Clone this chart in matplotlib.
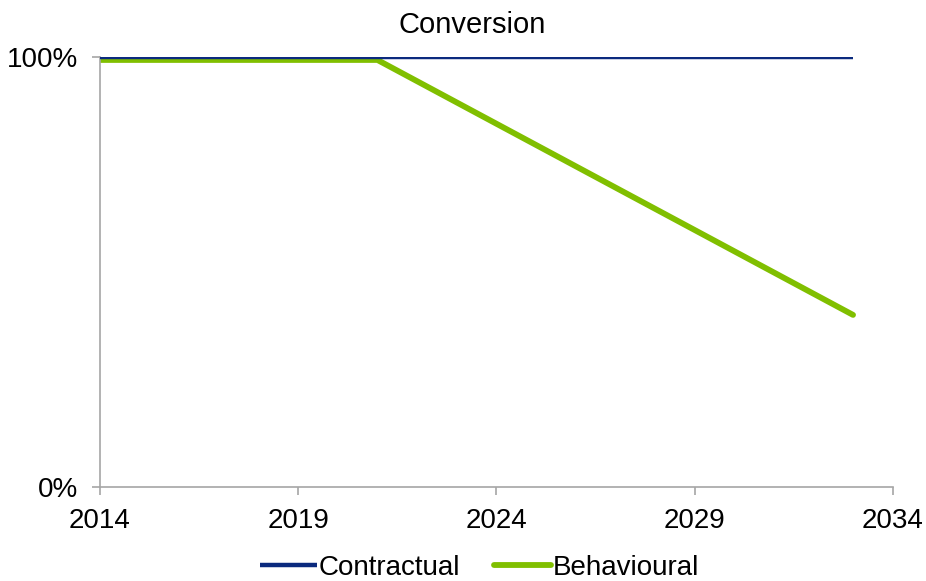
import matplotlib.pyplot as plt
from matplotlib.ticker import FuncFormatter

plt.rcParams["font.family"] = ["Liberation Sans", "DejaVu Sans"]

# contractual conversion stays flat; behavioural runs off after 2021
contract_years = [2014, 2033]
contract_vals = [1.00, 1.00]
behav_years = [2014, 2021, 2033]
behav_vals = [0.993, 0.993, 0.40]

x_ticks = [2014, 2019, 2024, 2029, 2034]
y_ticks = [0.0, 1.0]

C_AXIS = "#a6a6a6"

fig = plt.figure(figsize=(9.26, 5.81), dpi=100)
ax = fig.add_axes([0.108, 0.162, 0.856, 0.740])

ax.plot(contract_years, contract_vals, color="#0b2a7e", lw=3.2,
        solid_capstyle="butt", label="Contractual", zorder=3)
ax.plot(behav_years, behav_vals, color="#80bf00", lw=4.2,
        solid_capstyle="round", label="Behavioural", zorder=2)

ax.set_xlim(2014, 2034)
ax.set_ylim(0, 1)
ax.set_xticks(x_ticks)
ax.set_yticks(y_ticks)
ax.yaxis.set_major_formatter(FuncFormatter(lambda v, _: f"{v:.0%}"))

for side in ("top", "right"):
    ax.spines[side].set_visible(False)
for side in ("left", "bottom"):
    ax.spines[side].set_color(C_AXIS)
    ax.spines[side].set_linewidth(1.2)
ax.tick_params(axis="both", colors=C_AXIS, labelcolor="black",
               labelsize=20, length=5.5, width=1.2, direction="out")
ax.tick_params(axis="x", pad=10)
ax.tick_params(axis="y", pad=10)

# title sits centred on the figure rather than the axes
fig.text(0.51, 0.957, "Conversion", fontsize=21, ha="center", va="center")

fig.legend(*ax.get_legend_handles_labels(), loc="center",
           bbox_to_anchor=(0.518, 0.022), ncol=2, frameon=False,
           fontsize=20, handlelength=2.05, handletextpad=0.08,
           columnspacing=1.2, borderpad=0)

fig.savefig("out.png", dpi=100, facecolor="white")
